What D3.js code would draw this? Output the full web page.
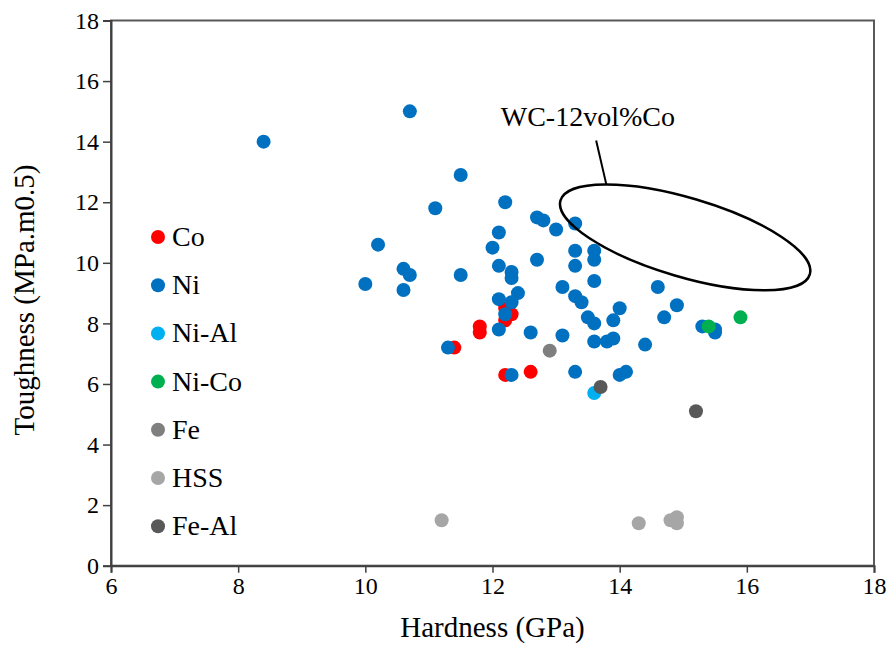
<!DOCTYPE html>
<html><head><meta charset="utf-8">
<script src="https://cdn.jsdelivr.net/npm/d3@7"></script>
</head><body style="margin:0;background:#fff"><svg id="c" width="889" height="659" style="display:block"></svg>
<script>
const hardnessTicks = [6, 8, 10, 12, 14, 16, 18];
const toughnessTicks = [0, 2, 4, 6, 8, 10, 12, 14, 16, 18];
const seriesNames = ["Co", "Ni", "Ni-Al", "Ni-Co", "Fe", "HSS", "Fe-Al"];
const seriesColors = ["#FF0000", "#0070C0", "#00B0F0", "#00B050", "#7F7F7F", "#A6A6A6", "#595959"];
const coPoints = [[11.4,7.2],[11.8,7.9],[11.8,7.7],[12.2,8.5],[12.3,8.3],[12.2,8.1],[12.2,6.3],[12.6,6.4]];
const niPoints = [[8.4,14.0],[10.7,15.0],[11.5,12.9],[11.1,11.8],[10.2,10.6],[10.6,9.8],[10.7,9.6],[11.5,9.6],[10.0,9.3],[10.6,9.1],
  [12.2,12.0],[12.1,11.0],[12.0,10.5],[12.1,9.9],[12.3,9.7],[12.3,9.5],[12.4,9.0],[12.1,8.8],[12.3,8.7],[12.2,8.3],[12.1,7.8],[11.3,7.2],[12.3,6.3],
  [12.7,11.5],[12.8,11.4],[13.0,11.1],[13.3,11.3],[12.7,10.1],[13.3,10.4],[13.6,10.4],[13.6,10.1],[13.3,9.9],[13.6,9.4],[13.1,9.2],[14.6,9.2],
  [13.3,8.9],[13.4,8.7],[14.0,8.5],[14.9,8.6],[14.7,8.2],[13.5,8.2],[13.6,8.0],[13.9,8.1],[12.6,7.7],[13.1,7.6],[13.6,7.4],[13.8,7.4],[13.9,7.5],
  [14.4,7.3],[13.3,6.4],[14.0,6.3],[14.1,6.4],[15.3,7.9],[15.5,7.8],[15.5,7.7]];
const niAlPoints = [[13.6,5.7]];
const niCoPoints = [[15.4,7.9],[15.9,8.2]];
const fePoints = [[12.9,7.1]];
const hssPoints = [[11.2,1.5],[14.3,1.4],[14.8,1.5],[14.9,1.6],[14.9,1.4]];
const feAlPoints = [[13.7,5.9],[15.2,5.1]];
const seriesPoints = [coPoints, niPoints, niAlPoints, niCoPoints, fePoints, hssPoints, feAlPoints];
const annotationText = "WC-12vol%Co";
const annotationAnchor = [12.13, 14.53];
const leaderLine = [[13.63, 14.04], [13.79, 12.59]];
const ellipseCenter = [15.03, 10.84];

const svg = d3.select("#c");
svg.append("rect").attr("width",889).attr("height",659).attr("fill","#fff");
const L = 111, R = 874, T = 20.5, B = 565.7;
const x = d3.scaleLinear().domain([6,18]).range([L,R]);
const y = d3.scaleLinear().domain([0,18]).range([B,T]);

svg.append("rect").attr("x",L).attr("y",T).attr("width",R-L).attr("height",B-T)
  .attr("fill","none").attr("stroke","#595959").attr("stroke-width",2);

const gx = svg.append("g").attr("transform",`translate(0,${B})`)
  .call(d3.axisBottom(x).tickValues(hardnessTicks).tickSize(7).tickPadding(4).tickFormat(d3.format("d")));
const gy = svg.append("g").attr("transform",`translate(${L},0)`)
  .call(d3.axisLeft(y).tickValues(toughnessTicks).tickSize(8).tickPadding(4).tickFormat(d3.format("d")));
[gx,gy].forEach(g=>{
  g.attr("font-family",null).attr("font-size",null);
  g.selectAll("path.domain").attr("stroke","#404040").attr("stroke-width",2);
  g.selectAll(".tick line").attr("stroke","#404040").attr("stroke-width",1.5);
  g.selectAll(".tick text").style("font-family","serif").attr("font-size",24).attr("fill","#000");
});

svg.append("text").attr("x",(L+R)/2).attr("y",637).attr("text-anchor","middle")
  .attr("font-size",29).style("font-family","Times New Roman").text("Hardness (GPa)");
svg.append("text").attr("transform","translate(34,300) rotate(-90)").attr("text-anchor","middle")
  .attr("font-size",29).style("font-family","Times New Roman").text("Toughness (MPa.m0.5)");

seriesPoints.forEach((pts,i)=>{
  svg.append("g").selectAll("circle").data(pts).join("circle")
    .attr("cx",d=>x(d[0])).attr("cy",d=>y(d[1])).attr("r",7)
    .attr("fill",seriesColors[i]);
});

svg.append("ellipse").attr("cx",0).attr("cy",0).attr("rx",130).attr("ry",39.5)
  .attr("transform",`translate(${x(ellipseCenter[0])},${y(ellipseCenter[1])}) rotate(16.5)`)
  .attr("fill","none").attr("stroke","#000").attr("stroke-width",2.5);
svg.append("line").attr("x1",x(leaderLine[0][0])).attr("y1",y(leaderLine[0][1]))
  .attr("x2",x(leaderLine[1][0])).attr("y2",y(leaderLine[1][1])).attr("stroke","#000").attr("stroke-width",2);
svg.append("text").attr("x",x(annotationAnchor[0])).attr("y",y(annotationAnchor[1]))
  .attr("font-size",28).style("font-family","Liberation Serif").text(annotationText);

seriesNames.forEach((n,i)=>{
  const cy = 237 + i*48.2;
  svg.append("circle").attr("cx",158).attr("cy",cy).attr("r",7).attr("fill",seriesColors[i]);
  svg.append("text").attr("x",172).attr("y",cy+9).attr("font-size",28).style("font-family","Liberation Serif").text(n);
});
</script></body></html>
